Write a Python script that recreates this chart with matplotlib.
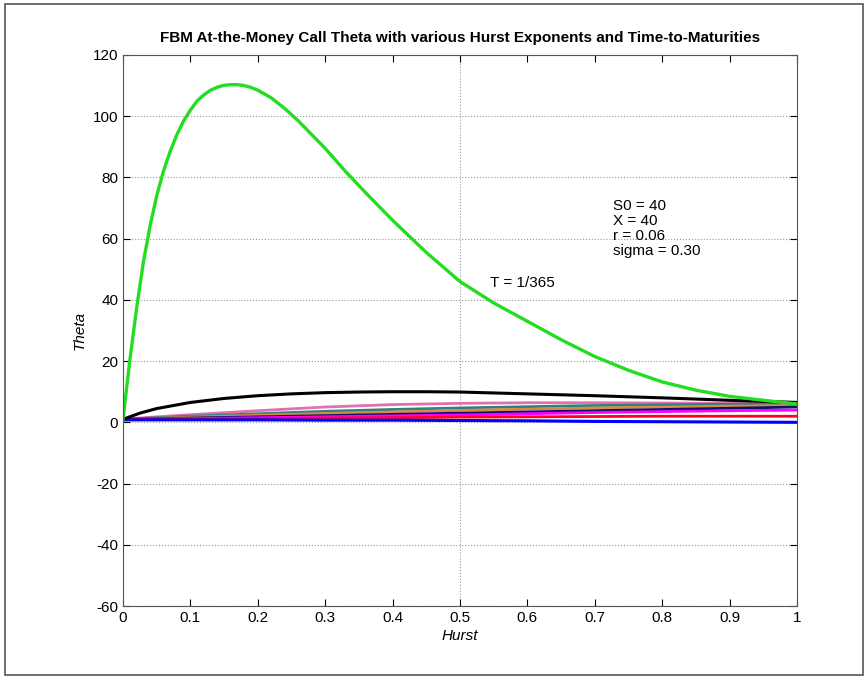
import numpy as np
import matplotlib.pyplot as plt
from matplotlib.patches import Rectangle

plt.rcParams['font.family'] = ['Liberation Sans', 'DejaVu Sans']
plt.rcParams['axes.unicode_minus'] = False

# T = 1/365 (green)
h_green = [0, 0.01, 0.02, 0.03, 0.04, 0.05, 0.06, 0.07, 0.08, 0.09, 0.10, 0.11,
           0.12, 0.13, 0.14, 0.15, 0.16, 0.17, 0.18, 0.19, 0.20, 0.22, 0.24, 0.26,
           0.28, 0.30, 0.33, 0.36, 0.40, 0.45, 0.50, 0.55, 0.60, 0.65, 0.70, 0.75,
           0.80, 0.85, 0.90, 0.95, 1.0]
theta_green = [1, 20, 37, 52, 64, 74, 82, 88.5, 94, 98.5, 102, 105, 107, 108.5,
               109.5, 110.1, 110.3, 110.3, 110, 109.4, 108.5, 106, 102.5, 98.5,
               94, 89.5, 82, 75, 66, 55.5, 46, 39, 33, 27, 21.5, 17,
               13.2, 10.5, 8.5, 7.2, 6]

# next maturity (black)
h_black = [0, 0.025, 0.05, 0.1, 0.15, 0.2, 0.25, 0.3, 0.35, 0.4, 0.45, 0.5,
           0.55, 0.6, 0.7, 0.8, 0.9, 1.0]
theta_black = [1, 3, 4.5, 6.5, 7.8, 8.7, 9.3, 9.7, 9.9, 10, 10, 9.9,
               9.6, 9.3, 8.7, 8, 7.2, 6.5]

# longer maturities
h_low = [0, 0.05, 0.1, 0.2, 0.3, 0.4, 0.5, 0.6, 0.7, 0.8, 0.9, 1.0]
theta_pink = [1, 1.8, 2.5, 3.8, 5.0, 5.8, 6.2, 6.4, 6.4, 6.3, 6.2, 6.0]
theta_teal = [1, 1.5, 2.0, 2.8, 3.6, 4.2, 4.7, 5.1, 5.5, 5.7, 5.9, 6.0]
theta_orange = [1, 1.3, 1.7, 2.3, 2.9, 3.4, 3.9, 4.3, 4.7, 5.0, 5.3, 5.5]
theta_navy = [1, 1.2, 1.4, 1.8, 2.2, 2.6, 3.0, 3.4, 3.8, 4.2, 4.6, 5.0]
theta_magenta = [1, 1.1, 1.2, 1.5, 1.8, 2.1, 2.4, 2.8, 3.2, 3.5, 3.8, 4.0]
theta_red = [1, 1.0, 1.1, 1.2, 1.4, 1.5, 1.7, 1.8, 1.9, 2.0, 2.0, 2.0]
theta_blue = [0.8, 0.8, 0.8, 0.8, 0.7, 0.7, 0.6, 0.5, 0.3, 0.2, 0.1, 0.0]

fig = plt.figure(figsize=(8.68, 6.79), dpi=100)
ax = fig.add_axes([0.1417, 0.1075, 0.7765, 0.8115])

ax.plot(h_low, theta_pink, color='#e070b0', lw=2)
ax.plot(h_low, theta_teal, color='#2f8080', lw=2)
ax.plot(h_low, theta_orange, color='#d88a40', lw=2)
ax.plot(h_low, theta_navy, color='#101070', lw=2)
ax.plot(h_low, theta_magenta, color='#ff00ff', lw=2)
ax.plot(h_low, theta_red, color='#ff0020', lw=2)
ax.plot(h_low, theta_blue, color='#0000ff', lw=2.2)
ax.plot(h_black, theta_black, color='black', lw=2.2)
ax.plot(h_green, theta_green, color='#22dd22', lw=2.4)

ax.set_xlim(0, 1)
ax.set_ylim(-60, 120)
ax.set_xticks(np.arange(0, 1.01, 0.1))
ax.set_xticklabels(['0', '0.1', '0.2', '0.3', '0.4', '0.5', '0.6', '0.7', '0.8', '0.9', '1'])
ax.set_yticks(np.arange(-60, 121, 20))
ax.tick_params(direction='in', top=True, right=True, labelsize=11, length=5)
ax.yaxis.grid(True, linestyle=':', color='#999999', lw=0.8)
ax.axvline(0.5, linestyle=':', color='#999999', lw=0.8, zorder=0)
for s in ax.spines.values():
    s.set_color('#555555')

ax.set_title('FBM At-the-Money Call Theta with various Hurst Exponents and Time-to-Maturities',
             fontsize=11, fontweight='bold', pad=9)
ax.set_xlabel('Hurst', fontsize=11, style='italic', labelpad=3)
ax.set_ylabel('Theta', fontsize=11, style='italic', labelpad=4)

ax.text(0.545, 45.5, 'T = 1/365', fontsize=11, va='center')
ax.text(0.727, 73, 'S0 = 40\nX = 40\nr = 0.06\nsigma = 0.30',
        fontsize=11, va='top', linespacing=1.1)

fig.patches.append(Rectangle((0.006, 0.006), 0.988, 0.988, transform=fig.transFigure,
                             fill=False, edgecolor='#555555', lw=1.2))

fig.savefig('out.png', dpi=100)
